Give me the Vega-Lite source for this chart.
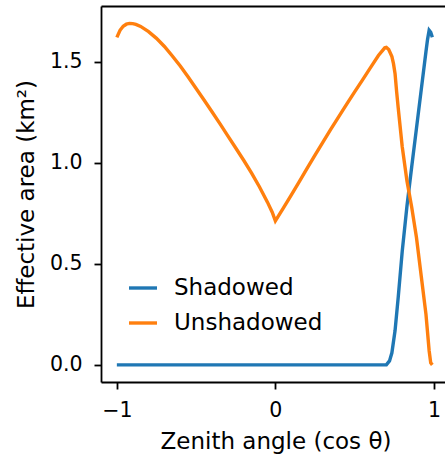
{
  "$schema": "https://vega.github.io/schema/vega-lite/v6.json",
  "autosize": "none",
  "padding": {"left": 101, "top": 6, "right": 0, "bottom": 73},
  "width": 344,
  "height": 376,
  "background": "white",
  "config": {
    "font": "DejaVu Sans",
    "view": {"stroke": null},
    "axis": {
      "grid": false,
      "domainColor": "black",
      "domainWidth": 1.8,
      "tickColor": "black",
      "tickWidth": 1.8,
      "tickSize": 7,
      "labelColor": "black",
      "titleColor": "black",
      "labelFont": "DejaVu Sans",
      "titleFont": "DejaVu Sans",
      "labelFontSize": 20.5,
      "titleFontSize": 23,
      "titleFontWeight": "normal"
    }
  },
  "data": {
    "values": [
      {"x": -1.0, "y": 0.0, "series": "Shadowed"},
      {"x": -0.5, "y": 0.0, "series": "Shadowed"},
      {"x": 0.0, "y": 0.0, "series": "Shadowed"},
      {"x": 0.5, "y": 0.0, "series": "Shadowed"},
      {"x": 0.7, "y": 0.0, "series": "Shadowed"},
      {"x": 0.72, "y": 0.02, "series": "Shadowed"},
      {"x": 0.735, "y": 0.06, "series": "Shadowed"},
      {"x": 0.755, "y": 0.17, "series": "Shadowed"},
      {"x": 0.775, "y": 0.335, "series": "Shadowed"},
      {"x": 0.8, "y": 0.56, "series": "Shadowed"},
      {"x": 0.83, "y": 0.785, "series": "Shadowed"},
      {"x": 0.86, "y": 0.98, "series": "Shadowed"},
      {"x": 0.89, "y": 1.17, "series": "Shadowed"},
      {"x": 0.92, "y": 1.36, "series": "Shadowed"},
      {"x": 0.95, "y": 1.55, "series": "Shadowed"},
      {"x": 0.96, "y": 1.61, "series": "Shadowed"},
      {"x": 0.97, "y": 1.655, "series": "Shadowed"},
      {"x": 0.98, "y": 1.645, "series": "Shadowed"},
      {"x": 0.99, "y": 1.62, "series": "Shadowed"},
      {"x": -1.0, "y": 1.62, "series": "Unshadowed"},
      {"x": -0.98, "y": 1.655, "series": "Unshadowed"},
      {"x": -0.96, "y": 1.675, "series": "Unshadowed"},
      {"x": -0.94, "y": 1.685, "series": "Unshadowed"},
      {"x": -0.92, "y": 1.689, "series": "Unshadowed"},
      {"x": -0.9, "y": 1.688, "series": "Unshadowed"},
      {"x": -0.88, "y": 1.684, "series": "Unshadowed"},
      {"x": -0.85, "y": 1.674, "series": "Unshadowed"},
      {"x": -0.8, "y": 1.648, "series": "Unshadowed"},
      {"x": -0.75, "y": 1.615, "series": "Unshadowed"},
      {"x": -0.7, "y": 1.575, "series": "Unshadowed"},
      {"x": -0.65, "y": 1.528, "series": "Unshadowed"},
      {"x": -0.6, "y": 1.478, "series": "Unshadowed"},
      {"x": -0.55, "y": 1.424, "series": "Unshadowed"},
      {"x": -0.5, "y": 1.367, "series": "Unshadowed"},
      {"x": -0.45, "y": 1.31, "series": "Unshadowed"},
      {"x": -0.4, "y": 1.252, "series": "Unshadowed"},
      {"x": -0.35, "y": 1.193, "series": "Unshadowed"},
      {"x": -0.3, "y": 1.133, "series": "Unshadowed"},
      {"x": -0.25, "y": 1.073, "series": "Unshadowed"},
      {"x": -0.2, "y": 1.012, "series": "Unshadowed"},
      {"x": -0.15, "y": 0.948, "series": "Unshadowed"},
      {"x": -0.1, "y": 0.88, "series": "Unshadowed"},
      {"x": -0.05, "y": 0.805, "series": "Unshadowed"},
      {"x": -0.02, "y": 0.755, "series": "Unshadowed"},
      {"x": 0.0, "y": 0.712, "series": "Unshadowed"},
      {"x": 0.05, "y": 0.775, "series": "Unshadowed"},
      {"x": 0.1, "y": 0.84, "series": "Unshadowed"},
      {"x": 0.15, "y": 0.905, "series": "Unshadowed"},
      {"x": 0.2, "y": 0.972, "series": "Unshadowed"},
      {"x": 0.25, "y": 1.038, "series": "Unshadowed"},
      {"x": 0.3, "y": 1.102, "series": "Unshadowed"},
      {"x": 0.35, "y": 1.166, "series": "Unshadowed"},
      {"x": 0.4, "y": 1.228, "series": "Unshadowed"},
      {"x": 0.45, "y": 1.29, "series": "Unshadowed"},
      {"x": 0.5, "y": 1.35, "series": "Unshadowed"},
      {"x": 0.55, "y": 1.41, "series": "Unshadowed"},
      {"x": 0.6, "y": 1.47, "series": "Unshadowed"},
      {"x": 0.65, "y": 1.53, "series": "Unshadowed"},
      {"x": 0.69, "y": 1.568, "series": "Unshadowed"},
      {"x": 0.7, "y": 1.57, "series": "Unshadowed"},
      {"x": 0.715, "y": 1.56, "series": "Unshadowed"},
      {"x": 0.735, "y": 1.525, "series": "Unshadowed"},
      {"x": 0.745, "y": 1.49, "series": "Unshadowed"},
      {"x": 0.755, "y": 1.44, "series": "Unshadowed"},
      {"x": 0.765, "y": 1.35, "series": "Unshadowed"},
      {"x": 0.775, "y": 1.27, "series": "Unshadowed"},
      {"x": 0.8, "y": 1.08, "series": "Unshadowed"},
      {"x": 0.83, "y": 0.91, "series": "Unshadowed"},
      {"x": 0.86, "y": 0.78, "series": "Unshadowed"},
      {"x": 0.89, "y": 0.63, "series": "Unshadowed"},
      {"x": 0.92, "y": 0.44, "series": "Unshadowed"},
      {"x": 0.95, "y": 0.25, "series": "Unshadowed"},
      {"x": 0.97, "y": 0.07, "series": "Unshadowed"},
      {"x": 0.98, "y": 0.01, "series": "Unshadowed"},
      {"x": 0.99, "y": 0.0, "series": "Unshadowed"}
    ]
  },
  "resolve": {"axis": {"x": "independent"}},
  "layer": [
    {
      "mark": {"type": "line", "strokeWidth": 3.4, "clip": true},
      "encoding": {
        "x": {
          "field": "x",
          "type": "quantitative",
          "scale": {"domain": [-1.1, 1.07], "nice": false, "zero": false},
          "axis": {
            "orient": "bottom",
            "values": [-1, 0, 1],
            "format": "d",
            "labelPadding": 11,
            "title": "Zenith angle (cos θ)",
            "titleX": 174.5,
            "titleY": 66,
            "titleBaseline": "alphabetic",
            "titleAnchor": "middle",
            "titleAlign": "center"
          }
        },
        "y": {
          "field": "y",
          "type": "quantitative",
          "scale": {"domain": [-0.0845, 1.775], "nice": false, "zero": false},
          "axis": {
            "values": [0, 0.5, 1, 1.5],
            "format": ".1f",
            "labelPadding": 12,
            "title": "Effective area (km²)",
            "titleX": -68,
            "titleY": 188,
            "titleAngle": -90,
            "titleBaseline": "alphabetic",
            "titleAlign": "center"
          }
        },
        "color": {
          "field": "series",
          "type": "nominal",
          "scale": {"domain": ["Shadowed", "Unshadowed"], "range": ["#1f77b4", "#ff7f0e"]},
          "legend": {
            "title": null,
            "orient": "none",
            "legendX": 26,
            "legendY": 266,
            "padding": 0,
            "symbolType": "stroke",
            "symbolSize": 784,
            "symbolStrokeWidth": 3.4,
            "labelFontSize": 23,
            "labelFont": "DejaVu Sans",
            "labelColor": "black",
            "labelOffset": 15,
            "rowPadding": 7
          }
        }
      }
    },
    {
      "mark": {"type": "point", "opacity": 0},
      "encoding": {
        "x": {
          "field": "x",
          "type": "quantitative",
          "axis": {"orient": "top", "labels": false, "ticks": false, "title": null}
        },
        "y": {"field": "y", "type": "quantitative"}
      }
    }
  ]
}
